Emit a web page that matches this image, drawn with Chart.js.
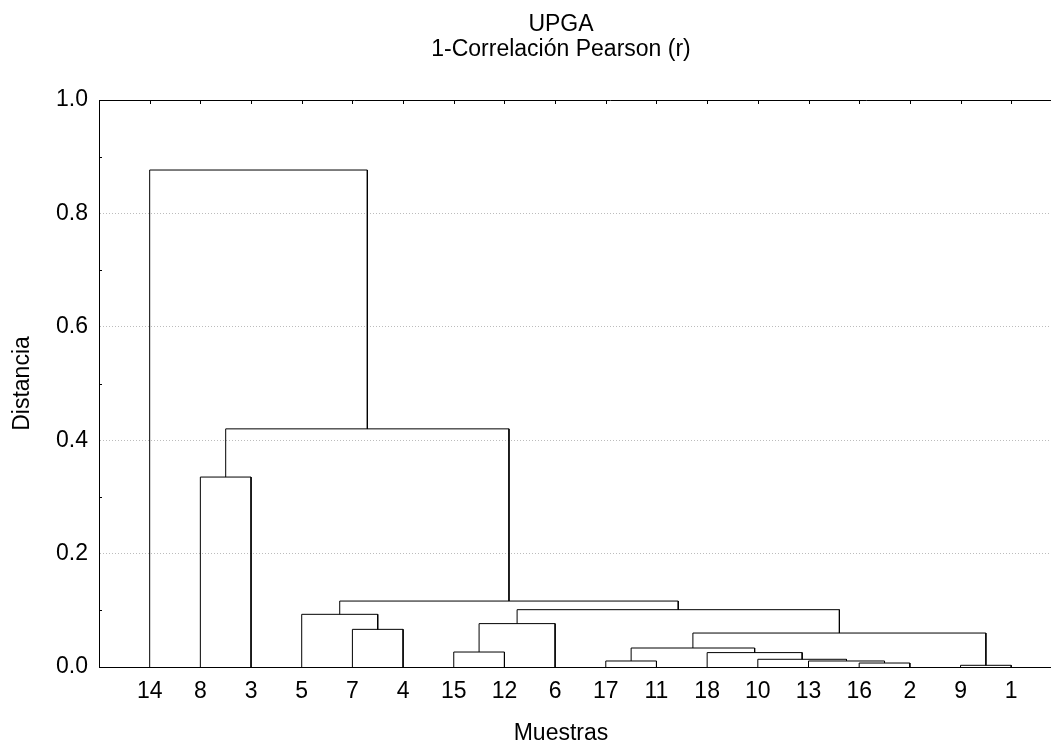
<!DOCTYPE html>
<html>
<head>
<meta charset="utf-8">
<script src="https://cdn.jsdelivr.net/npm/chart.js@4/dist/chart.umd.min.js"></script>
<style>
  html, body { margin: 0; padding: 0; background: #fff; overflow: hidden; }
  #wrap { width: 1051px; height: 742px; overflow: hidden; position: relative; }
  #chart { position: absolute; left: 0; top: 0; }
</style>
</head>
<body>
<div id="wrap"><canvas id="chart" width="1122" height="742"></canvas></div>
<script>
// leaf order along the x axis (sample numbers)
const samples = ['14','8','3','5','7','4','15','12','6','17','11','18','10','13','16','2','9','1'];

// merge steps, hclust style: negative = single sample, positive = earlier step (1-based)
const mergeA      = [-9, -16, -17, -13, -10, -18, -15, 3, 8, -7, 7, -5, 11, 12, -8, 15, -14];
const mergeB      = [-1,  -2, -11,   2,   4,   5, -12, 6, 1, -4, -6, 10, 9, 13, -3, 14, 16];
const mergeHeight = [0.003, 0.007, 0.0106, 0.0106, 0.0136, 0.0254, 0.0264, 0.0335, 0.0599,
                     0.0664, 0.0765, 0.0929, 0.1011, 0.1163, 0.335, 0.420, 0.8765];

const yMinorTicks = [0.1, 0.3, 0.5, 0.7, 0.9];

const FONT = 'Liberation Sans, Arial, sans-serif';
const FS = 23;

// build one bracket per merge
const nodeX = [], nodeH = [];
function childPos(ref) {
    if (ref < 0) return { x: samples.indexOf(String(-ref)) + 1, h: 0 };
    return { x: nodeX[ref - 1], h: nodeH[ref - 1] };
}
const datasets = [];
mergeHeight.forEach((h, i) => {
    const a = childPos(mergeA[i]), b = childPos(mergeB[i]);
    nodeX.push((a.x + b.x) / 2);
    nodeH.push(h);
    datasets.push({
        data: [{ x: a.x, y: a.h }, { x: a.x, y: h }, { x: b.x, y: h }, { x: b.x, y: b.h }],
        showLine: true,
        borderColor: '#000',
        borderWidth: 1,
        pointRadius: 0,
        fill: false,
        tension: 0
    });
});

// top frame line, top tick marks, left minor ticks
const framePlugin = {
    id: 'frame',
    afterDraw(chart) {
        const { ctx, chartArea: a, scales: { x, y } } = chart;
        ctx.save();
        ctx.strokeStyle = '#000';
        ctx.lineWidth = 1;
        ctx.beginPath();
        ctx.moveTo(a.left, a.top + 0.5);
        ctx.lineTo(a.right, a.top + 0.5);
        samples.forEach((s, i) => {
            const px = Math.round(x.getPixelForValue(i + 1)) + 0.5;
            ctx.moveTo(px, a.top);
            ctx.lineTo(px, a.top + 4);
        });
        yMinorTicks.forEach(v => {
            const py = Math.round(y.getPixelForValue(v)) + 0.5;
            ctx.moveTo(a.left, py);
            ctx.lineTo(a.left + 3, py);
        });
        ctx.stroke();
        ctx.restore();
    }
};

new Chart(document.getElementById('chart'), {
    type: 'scatter',
    data: { datasets },
    options: {
        responsive: false,
        animation: false,
        layout: { padding: 0 },
        plugins: {
            legend: { display: false },
            tooltip: { enabled: false },
            title: {
                display: true, text: ['UPGA', '1-Correlación Pearson (r)'], color: '#000',
                font: { family: FONT, size: FS, weight: 'normal', lineHeight: 1.1 },
                padding: { top: 12, bottom: 37.4 }
            },
            subtitle: {
                display: true, position: 'bottom', text: 'Muestras', color: '#000',
                font: { family: FONT, size: FS, weight: 'normal', lineHeight: 0.7 },
                padding: { top: 0, bottom: 0 }
            }
        },
        scales: {
            x: {
                type: 'linear', min: 0, max: 20.186,
                afterBuildTicks: s => { s.ticks = samples.map((v, i) => ({ value: i + 1 })); },
                afterFit: s => { s.height = 75 - FS * 0.7; },
                ticks: {
                    color: '#000', padding: 11, maxRotation: 0, autoSkip: false,
                    font: { family: FONT, size: FS },
                    callback: v => samples[v - 1]
                },
                grid: { display: false, drawTicks: false },
                border: { display: true, color: '#000', width: 1 }
            },
            y: {
                min: 0, max: 1,
                afterFit: s => { s.width = 99; },
                ticks: {
                    stepSize: 0.2, color: '#000', padding: 11,
                    font: { family: FONT, size: FS },
                    callback: v => v.toFixed(1)
                },
                grid: {
                    drawTicks: false, lineWidth: 1,
                    color: c => (c.tick && c.tick.value > 0.001 && c.tick.value < 0.999) ? '#bcbcbc' : 'rgba(0,0,0,0)'
                },
                border: { display: true, color: '#000', width: 1, dash: [1, 2] },
                title: {
                    display: true, text: 'Distancia', color: '#000',
                    font: { family: FONT, size: FS },
                    padding: { top: 9, bottom: 0 }
                }
            }
        }
    },
    plugins: [framePlugin]
});
</script>
</body>
</html>
